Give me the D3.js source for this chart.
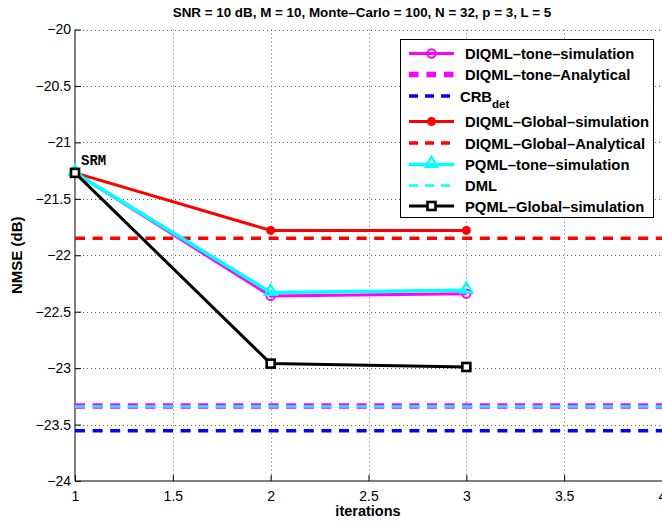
<!DOCTYPE html>
<html>
<head>
<meta charset="utf-8">
<script src="https://cdn.jsdelivr.net/npm/d3@7"></script>
<style>
  body { margin: 0; background: #fff; }
  svg { display: block; font-family: "Liberation Sans", Arial, Helvetica, sans-serif; }
</style>
</head>
<body>
<svg id="chart" width="662" height="523"></svg>
<script>
// Iteration index and NMSE curves (dB)
const iterations = [1, 2, 3];
const diqmlToneSim = [-21.27, -22.36, -22.34];
const diqmlGlobalSim = [-21.27, -21.78, -21.78];
const pqmlToneSim = [-21.27, -22.33, -22.31];
const pqmlGlobalSim = [-21.27, -22.96, -22.99];

// Constant reference levels (dB)
const diqmlToneAnalytical = -23.335;
const crbDet = -23.555;
const diqmlGlobalAnalytical = -21.85;
const dml = -23.34;

// Axis ticks
const xTicks = [1, 1.5, 2, 2.5, 3, 3.5, 4];
const yTicks = [-20, -20.5, -21, -21.5, -22, -22.5, -23, -23.5, -24];

const titleText = "SNR = 10 dB, M = 10, Monte\u2013Carlo = 100, N = 32, p = 3, L = 5";
const xLabel = "iterations";
const yLabel = "NMSE (dB)";

const svg = d3.select("#chart");
const margin = { left: 75, top: 29.5, right: 0, bottom: 42 };
const W = 662, H = 523;

const x = d3.scaleLinear().domain([1, 4]).range([margin.left, W - margin.right]);
const y = d3.scaleLinear().domain([-24, -20]).range([H - margin.bottom, margin.top]);

const fmt = v => (v < 0 ? "\u2212" + Math.abs(v) : String(v));

// grid
const grid = svg.append("g").attr("stroke", "#666").attr("stroke-width", 1).attr("stroke-dasharray", "1,3");
grid.selectAll("line.gx").data(xTicks.slice(1)).join("line")
  .attr("x1", d => Math.round(x(d)) + 0.5).attr("x2", d => Math.round(x(d)) + 0.5)
  .attr("y1", y(-20)).attr("y2", y(-24));
grid.selectAll("line.gy").data(yTicks.slice(0, -1)).join("line")
  .attr("y1", d => Math.round(y(d)) + 0.5).attr("y2", d => Math.round(y(d)) + 0.5)
  .attr("x1", x(1)).attr("x2", x(4));

// axes (inward ticks, no box)
const xAxis = d3.axisBottom(x).tickValues(xTicks).tickSize(-6).tickPadding(10).tickFormat(d => String(d));
const yAxis = d3.axisLeft(y).tickValues(yTicks).tickSize(-6).tickPadding(4).tickFormat(fmt);

const gx = svg.append("g").attr("transform", `translate(0,${y(-24)})`).call(xAxis);
const gy = svg.append("g").attr("transform", `translate(${x(1)},0)`).call(yAxis);
[gx, gy].forEach(g => {
  g.select(".domain").attr("stroke", "#000").attr("stroke-width", 1);
  g.selectAll(".tick line").attr("stroke", "#000");
  g.selectAll("text").attr("fill", "#000").attr("font-size", 14)
    .attr("font-family", "'Liberation Sans', Arial, sans-serif");
});
gx.select(".domain").attr("d", `M${x(1)},0H${x(4)}`);
gy.select(".domain").attr("d", `M0,${y(-24)}V${y(-20)}`);

// series definitions
const line = d3.line().x(d => x(d[0])).y(d => y(d[1]));
const zip = vals => iterations.map((it, i) => [it, vals[i]]);

const dash = "10,7.6";
const hline = (val, color, width) => svg.append("line")
  .attr("x1", x(1)).attr("x2", x(4)).attr("y1", y(val)).attr("y2", y(val))
  .attr("stroke", color).attr("stroke-width", width).attr("stroke-dasharray", dash);

const series = [
  { name: "DIQML\u2013tone\u2013simulation", kind: "sim", data: diqmlToneSim, color: "#ff00ff", width: 3, marker: "circle" },
  { name: "DIQML\u2013tone\u2013Analytical", kind: "const", value: diqmlToneAnalytical, color: "#ff00ff", width: 5.5 },
  { name: "CRB", sub: "det", kind: "const", value: crbDet, color: "#0000ff", width: 3.3 },
  { name: "DIQML\u2013Global\u2013simulation", kind: "sim", data: diqmlGlobalSim, color: "#ff0000", width: 3, marker: "dot" },
  { name: "DIQML\u2013Global\u2013Analytical", kind: "const", value: diqmlGlobalAnalytical, color: "#ff0000", width: 3.6 },
  { name: "PQML\u2013tone\u2013simulation", kind: "sim", data: pqmlToneSim, color: "#00ffff", width: 3.6, marker: "triangle" },
  { name: "DML", kind: "const", value: dml, color: "#00ffff", width: 2.4 },
  { name: "PQML\u2013Global\u2013simulation", kind: "sim", data: pqmlGlobalSim, color: "#000000", width: 3, marker: "square" }
];

function drawMarker(g, type, color, cx, cy) {
  if (type === "circle") {
    g.append("circle").attr("cx", cx).attr("cy", cy).attr("r", 4.2)
      .attr("fill", "none").attr("stroke", color).attr("stroke-width", 2);
  } else if (type === "dot") {
    g.append("circle").attr("cx", cx).attr("cy", cy).attr("r", 4.5).attr("fill", color);
  } else if (type === "triangle") {
    g.append("path").attr("d", d3.symbol(d3.symbolTriangle, 60)()).attr("transform", `translate(${cx},${cy - 1})`)
      .attr("fill", "none").attr("stroke", color).attr("stroke-width", 2.2);
  } else if (type === "square") {
    g.append("rect").attr("x", cx - 4).attr("y", cy - 4).attr("width", 8).attr("height", 8)
      .attr("fill", "#fff").attr("stroke", color).attr("stroke-width", 2.6);
  }
}

series.forEach(s => {
  if (s.kind === "const") {
    hline(s.value, s.color, s.width);
  } else {
    const g = svg.append("g");
    g.append("path").datum(zip(s.data)).attr("d", line)
      .attr("fill", "none").attr("stroke", s.color).attr("stroke-width", s.width).attr("stroke-linejoin", "round");
    zip(s.data).forEach(p => drawMarker(g, s.marker, s.color, x(p[0]), y(p[1])));
  }
});

// SRM annotation at the starting point
svg.append("text").attr("x", x(1) + 6).attr("y", y(diqmlToneSim[0]) - 8)
  .attr("font-family", "'Liberation Mono', 'Courier New', monospace").attr("font-weight", "bold")
  .attr("font-size", 14).text("SRM");

// legend
const lg = svg.append("g");
lg.append("rect").attr("x", 400.5).attr("y", 39.5).attr("width", 253).attr("height", 178)
  .attr("fill", "#fff").attr("stroke", "#000").attr("stroke-width", 1);
const rowY = [53.5, 74.5, 96, 121.5, 143, 164.5, 185.5, 206];
series.forEach((s, i) => {
  const yy = rowY[i];
  const l = lg.append("line").attr("x1", 409).attr("x2", 454).attr("y1", yy).attr("y2", yy)
    .attr("stroke", s.color).attr("stroke-width", s.width);
  if (s.kind === "const") l.attr("stroke-dasharray", s.name === "DIQML\u2013tone\u2013Analytical" ? "9.5,8" : "9,7");
  if (s.marker) drawMarker(lg, s.marker, s.color, 431.5, yy);
  const t = lg.append("text").attr("x", s.sub ? 460 : 465).attr("y", yy + 5.5)
    .attr("font-weight", "bold").attr("font-size", 14.8).text(s.name);
  if (s.sub) t.append("tspan").attr("dy", 6).attr("font-size", 11.5).text(s.sub);
});

// titles
svg.append("text").attr("x", 362).attr("y", 17).attr("text-anchor", "middle")
  .attr("font-weight", "bold").attr("font-size", 13.4).text(titleText);
svg.append("text").attr("x", x(2.5) - 0.5).attr("y", 516).attr("text-anchor", "middle")
  .attr("font-weight", "bold").attr("font-size", 14.5).text(xLabel);
svg.append("text").attr("transform", `translate(22,${(y(-20) + y(-24)) / 2}) rotate(-90)`)
  .attr("text-anchor", "middle").attr("font-weight", "bold").attr("font-size", 15).text(yLabel);
</script>
</body>
</html>
